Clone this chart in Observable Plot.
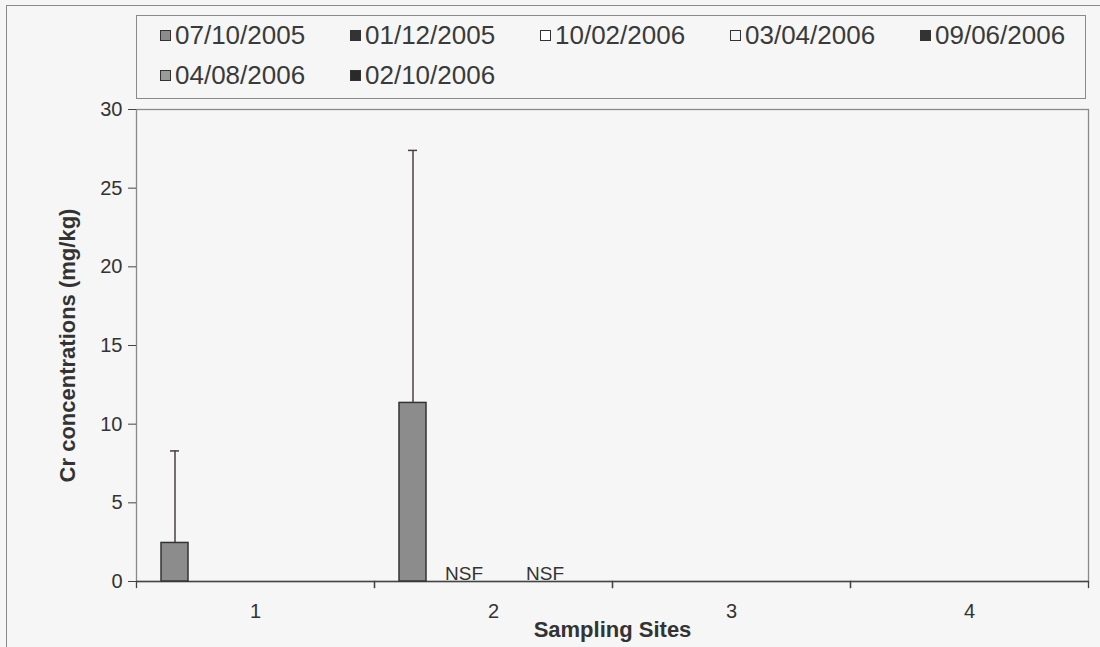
<!DOCTYPE html>
<html><head><meta charset="utf-8">
<script src="https://cdn.jsdelivr.net/npm/d3@7"></script>
<script src="https://cdn.jsdelivr.net/npm/@observablehq/plot@0.6"></script>
<style>
body{margin:0;background:#f6f6f6;font-family:"Liberation Sans",Arial,sans-serif;color:#333;}
#wrap{position:relative;width:1100px;height:647px;overflow:hidden;}
#outer{position:absolute;left:6px;top:5px;width:1200px;height:800px;border-left:1.5px solid #8a8a8a;border-top:1.5px solid #8a8a8a;}
#legend{position:absolute;left:136px;top:15px;width:950px;height:84px;border:1px solid #8a8a8a;box-sizing:border-box;}
.item{position:absolute;display:flex;align-items:center;font-size:26px;line-height:30px;height:30px;white-space:nowrap;color:#3a3a3a;}
.sw{width:9px;height:9px;border:1px solid #333;margin-right:4px;}
#chart{position:absolute;left:0;top:100px;}
#chart svg{overflow:visible;}
#chart g[aria-label="y-axis label"] text, #chart g[aria-label="fx-axis label"] text{font-weight:bold;font-size:22px;}
</style></head>
<body>
<div id="wrap">
  <div id="outer"></div>
  <div id="legend"></div>
  <div id="chart"></div>
</div>
<script>
// ---- data ----
const sites = ["1", "2", "3", "4"];
const dates = ["07/10/2005", "01/12/2005", "10/02/2006", "03/04/2006", "09/06/2006", "04/08/2006", "02/10/2006"];
const dateColors = ["#8c8c8c", "#333333", "#ffffff", "#f4f4f4", "#333333", "#9a9a9a", "#2a2a2a"];
const barSite = ["1", "2"];
const barDate = ["07/10/2005", "07/10/2005"];
const barMean = [2.45, 11.35];
const barErrTop = [8.3, 27.4];
const nsfSite = ["2", "2"];
const nsfDate = ["10/02/2006", "04/08/2006"];
const yTicks = [0, 5, 10, 15, 20, 25, 30];

const bars = barSite.map((s, i) => ({site: s, date: barDate[i], mean: barMean[i], top: barErrTop[i]}));
const nsf = nsfSite.map((s, i) => ({site: s, date: nsfDate[i], label: "NSF"}));

// ---- legend ----
const legend = document.getElementById("legend");
dates.forEach((d, i) => {
  const col = i % 5, row = Math.floor(i / 5);
  const it = document.createElement("div");
  it.className = "item";
  it.style.left = (23 + 190 * col) + "px";
  it.style.top = (4 + 40 * row) + "px";
  const sw = document.createElement("span");
  sw.className = "sw";
  sw.style.background = dateColors[i];
  const tx = document.createElement("span");
  tx.textContent = d;
  it.appendChild(sw); it.appendChild(tx);
  legend.appendChild(it);
});

// ---- chart ----
const chart = Plot.plot({
  width: 1100, height: 547,
  marginLeft: 135, marginRight: 11, marginTop: 9, marginBottom: 66,
  style: {background: "transparent", fontFamily: "Liberation Sans, Arial, sans-serif", color: "#333", fontSize: "20px", overflow: "visible"},
  fx: {domain: sites, padding: 0},
  x: {domain: dates, paddingInner: 0, paddingOuter: 0.76, axis: null},
  y: {domain: [0, 30]},
  marks: [
    Plot.frame({facet: "super", stroke: "#8a8a8a", strokeWidth: 1.3}),
    Plot.axisY({ticks: yTicks, tickSize: 8, tickPadding: 6, fontSize: 20, stroke: "#444",
      label: "Cr concentrations (mg/kg)", labelAnchor: "center", labelOffset: 77, labelArrow: "none"}),
    Plot.axisFx({anchor: "bottom", tickSize: 0, tickPadding: 22, fontSize: 20,
      label: "Sampling Sites", labelAnchor: "center", labelOffset: 55, labelArrow: "none"}),
    Plot.ruleY(sites, {fx: d => d, y: () => 0, stroke: "#444", strokeWidth: 1.5}),
    Plot.frame({anchor: "left", insetTop: 472, insetBottom: -6, stroke: "#444", strokeWidth: 1.3}),
    Plot.frame({anchor: "right", insetTop: 472, insetBottom: -6, stroke: "#444", strokeWidth: 1.3}),
    Plot.ruleX(bars, {fx: "site", x: "date", y1: "mean", y2: "top", stroke: "#4a4040", strokeWidth: 1.5}),
    Plot.tickY(bars, {fx: "site", x: "date", y: "top", insetLeft: 9, insetRight: 9, stroke: "#4a4040", strokeWidth: 1.5}),
    Plot.barY(bars, {fx: "site", x: "date", y: "mean", fill: "#8c8c8c", stroke: "#333", strokeWidth: 1.5}),
    Plot.text(nsf, {fx: "site", x: "date", y: 0, text: "label", lineAnchor: "bottom", dy: -2, dx: -3, fontSize: 19, fill: "#333"})
  ]
});
document.getElementById("chart").appendChild(chart);
</script>
</body></html>
